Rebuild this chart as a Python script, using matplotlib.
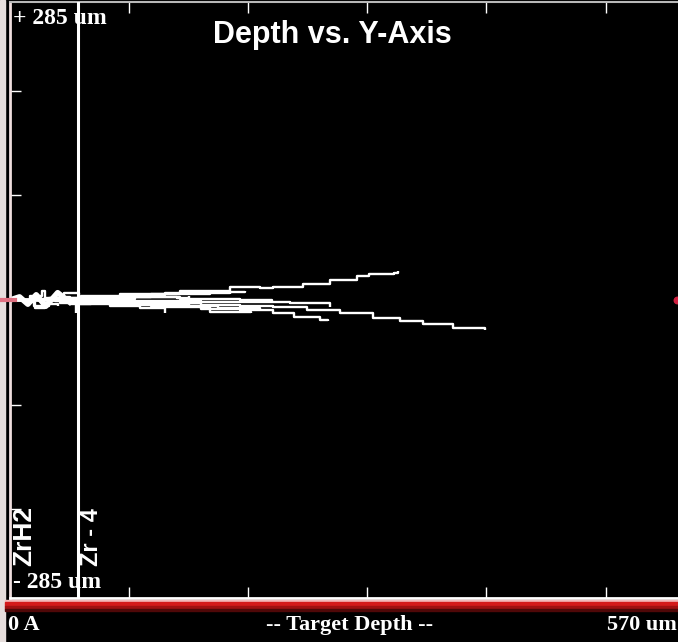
import matplotlib.pyplot as plt
from matplotlib.patches import Rectangle

# ============================================
# DATA  (depth in um, lateral Y in um)
# ============================================

depth_max = 570
y_max = 285
layer_edge = 57          # ZrH2 / Zr-4 interface
layer_names = ["ZrH2", "Zr - 4"]

x_ticks = [100, 200, 300, 400, 500]
y_ticks = [-200, -100, 0, 100, 200]

# ion tracks
track1_depth = [0, 42, 92, 143, 185, 210, 221, 246, 269, 291, 301, 322, 326]
track1_y = [0, 2, 6, 9, 12, 11, 12, 15, 19, 23, 25, 26, 28]

track2_depth = [0, 50, 101, 160, 193, 221, 249, 277, 305, 327, 347, 372, 399]
track2_y = [0, -1, -3, -5, -6, -7, -10, -12, -17, -20, -23, -27, -29]

track3_depth = [0, 59, 118, 160, 193, 221, 238, 260, 267]
track3_y = [0, -2, -6, -9, -10, -12, -16, -19, -20]

track4_depth = [0, 76, 143, 193, 220]
track4_y = [0, 3, 1, 0, -2]

track5_depth = [0, 92, 160, 235, 249, 269]
track5_y = [0, -1, -2, -3, -3, -7]

track6_depth = [0, 42, 84, 109, 130]
track6_y = [0, -3, -6, -8, -12]

track7_depth = [0, 25, 38, 55]
track7_y = [0, 1, -1, -12]

track8_depth = [0, 67, 118, 168, 197]
track8_y = [0, 3, 6, 8, 9]

track9_depth = [0, 17, 27, 29, 42, 50]
track9_y = [0, 4, 9, 0, 3, -3]

track10_depth = [0, 13, 21, 29, 40]
track10_y = [0, -2, -8, -4, -6]

track11_depth = [0, 75, 126, 168, 202]
track11_y = [0, -3, -7, -11, -12]

track12_depth = [0, 60, 100, 130, 160, 185]
track12_y = [0, 4, 5, 7, 7, 6]

track13_depth = [0, 50, 90, 120, 150, 175, 210]
track13_y = [0, -4, -5, -4, -6, -8, -9]

track14_depth = [0, 20, 33, 45, 58, 68]
track14_y = [0, -6, 2, 7, -4, 1]

track15_depth = [0, 30, 70, 105, 140, 150]
track15_y = [0, 2, 1, 3, 2, 4]

tracks = [
    (track1_depth, track1_y), (track2_depth, track2_y),
    (track3_depth, track3_y), (track4_depth, track4_y),
    (track5_depth, track5_y), (track6_depth, track6_y),
    (track7_depth, track7_y), (track8_depth, track8_y),
    (track9_depth, track9_y), (track10_depth, track10_y),
    (track11_depth, track11_y), (track12_depth, track12_y),
    (track13_depth, track13_y), (track14_depth, track14_y),
    (track15_depth, track15_y),
]

beam_end_depth = 560

# ============================================
# FIGURE
# ============================================

W, H = 678, 642
fig = plt.figure(figsize=(W / 100, H / 100), dpi=100, facecolor="black")


def px(x, y):
    return x / W, 1 - y / H


# light strip on the far left
fig.add_artist(Rectangle((0, 0), 5 / W, 1, transform=fig.transFigure,
                         color="#e6dedc", zorder=0))

left, right, top, bottom = 10, 689, 2, 598
ax = fig.add_axes([left / W, 1 - bottom / H, (right - left) / W, (bottom - top) / H])
ax.set_facecolor("black")
ax.set_xlim(0, depth_max)
ax.set_ylim(-y_max, y_max)

for d, yy in tracks:
    ax.plot(d, yy, color="white", lw=1.7, drawstyle="steps-post",
            solid_capstyle="butt", zorder=2)

# dense blob near the surface
ax.plot([0, 8, 15, 22, 30, 40, 50], [0, 3, -4, 5, -6, 7, -2],
        color="white", lw=4, zorder=2)

# beam entry and end marker
ax.plot([-9, 4], [0, 0], color="#e07080", lw=3, clip_on=False, zorder=3)
ax.scatter([beam_end_depth], [0], s=22, color="#d02040", zorder=5)

# layer boundary
ax.axvline(layer_edge, color="white", lw=2.2, zorder=4)

ax.set_xticks(x_ticks)
ax.set_yticks(y_ticks)
ax.tick_params(direction="in", colors="white", length=8, width=1,
               top=True, right=True, labelbottom=False, labelleft=False)

ax.spines["left"].set_color("#efdede")
ax.spines["left"].set_linewidth(2)
ax.spines["top"].set_color("#b8b8b8")
ax.spines["top"].set_linewidth(1.5)
ax.spines["bottom"].set_color("white")
ax.spines["bottom"].set_linewidth(2)
ax.spines["right"].set_color("white")

# red band under the plot
band = [(600, 602, "#f2b8b8"), (602, 606, "#d41a1a"), (606, 609, "#a01010"),
        (609, 611, "#500808")]
for y0, y1, c in band:
    fig.add_artist(Rectangle(px(5, y1), (W - 5) / W, (y1 - y0) / H,
                             transform=fig.transFigure, color=c, zorder=3))

# ============================================
# TEXT
# ============================================

serif = "Liberation Serif"
sans = "Liberation Sans"
ft = fig.transFigure

ax.text(*px(332, 43.5), "Depth vs. Y-Axis", color="white", fontsize=22,
        fontweight="bold", family=sans, ha="center", va="baseline", transform=ft)

ax.text(*px(13, 19), f"+ {y_max} um", color="white", fontsize=17,
        fontweight="bold", family=serif, ha="left", va="center",
        transform=ft, zorder=1)
ax.text(*px(13, 583), f"- {y_max} um", color="white", fontsize=17,
        fontweight="bold", family=serif, ha="left", va="center",
        transform=ft, zorder=1)

ax.text(*px(24, 566), layer_names[0], color="white", fontsize=19,
        fontweight="bold", family=sans, rotation=90, ha="center", va="bottom",
        transform=ft)
ax.text(*px(92, 566), layer_names[1], color="white", fontsize=17,
        fontweight="bold", family=sans, rotation=90, ha="center", va="bottom",
        transform=ft)

fig.text(*px(8, 625), "0 A", color="white", fontsize=16,
         fontweight="bold", family=serif, ha="left", va="center")
fig.text(*px(350, 625), "-- Target Depth --", color="white", fontsize=16,
         fontweight="bold", family=serif, ha="center", va="center")
fig.text(*px(677, 625), f"{depth_max} um", color="white", fontsize=16,
         fontweight="bold", family=serif, ha="right", va="center")

plt.savefig("out.png", dpi=100, facecolor="black")
